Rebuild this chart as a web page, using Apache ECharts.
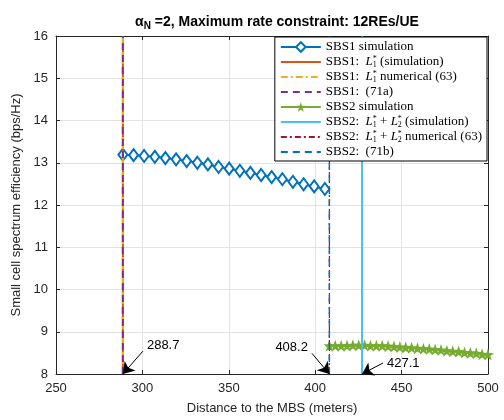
<!DOCTYPE html>
<html>
<head>
<meta charset="utf-8">
<script src="https://cdn.jsdelivr.net/npm/echarts@6/dist/echarts.min.js"></script>
<style>
  html, body { margin: 0; padding: 0; background: #fff; }
  #main { width: 504px; height: 420px; }
</style>
</head>
<body>
<div id="main"></div>
<script>
// SBS1 simulated efficiency vs distance
const sbs1Dist = [288.7, 294.9, 301.0, 307.2, 313.3, 319.5, 325.6, 331.8, 337.9, 344.1,
  350.2, 356.4, 362.5, 368.7, 374.8, 381.0, 387.1, 393.3, 399.4, 405.6];
const sbs1Eff = [13.19, 13.18, 13.16, 13.14, 13.11, 13.08, 13.04, 13.00, 12.96, 12.90,
  12.86, 12.81, 12.76, 12.71, 12.66, 12.61, 12.55, 12.49, 12.44, 12.38];

// SBS2 simulated efficiency vs distance
const sbs2Dist = [408.2, 411.6, 415.0, 418.4, 421.8, 425.2, 428.6, 432.0, 435.4, 438.8,
  442.2, 445.6, 449.0, 452.4, 455.8, 459.2, 462.6, 466.0, 469.4, 472.8,
  476.2, 479.6, 483.0, 486.4, 489.8, 493.2, 496.6, 500.0];
const sbs2Eff = [8.67, 8.67, 8.67, 8.67, 8.68, 8.68, 8.68, 8.67, 8.67, 8.67,
  8.66, 8.65, 8.64, 8.63, 8.62, 8.61, 8.60, 8.59, 8.58, 8.57,
  8.55, 8.54, 8.53, 8.51, 8.50, 8.49, 8.47, 8.46];

// boundary distances (vertical lines)
const sbs1L1Sim = 288.7;
const sbs1L1Num = 288.7;
const sbs1Eq71a = 288.7;
const sbs2SumSim = 427.1;
const sbs2SumNum = 408.2;
const sbs2Eq71b = 408.2;
const yLimits = [8, 16];

// arrow annotations: [label, tail x, tail y, head x, text side]
const notes = [
  ["288.7", 300.3, 8.54, 288.7, "right"],
  ["408.2", 398.1, 8.49, 408.2, "left"],
  ["427.1", 439.2, 8.26, 427.1, "right"]
];

const xTicks = [250, 300, 350, 400, 450, 500];
const yTicks = [8, 9, 10, 11, 12, 13, 14, 15, 16];

const legendNames = [
  "SBS1 simulation",
  "SBS1: L1 (simulation)",
  "SBS1: L1 numerical (63)",
  "SBS1: (71a)",
  "SBS2 simulation",
  "SBS2: L1+L2 (simulation)",
  "SBS2: L1+L2 numerical (63)",
  "SBS2: (71b)"
];
const L1 = "{it|L}{sp|*}{sb|1}";
const L2 = "{it|L}{sp|*}{sb|2}";
const legendRich = {
  "SBS1 simulation": "SBS1 simulation",
  "SBS1: L1 (simulation)": "SBS1:  " + L1 + " (simulation)",
  "SBS1: L1 numerical (63)": "SBS1:  " + L1 + " numerical (63)",
  "SBS1: (71a)": "SBS1:  (71a)",
  "SBS2 simulation": "SBS2 simulation",
  "SBS2: L1+L2 (simulation)": "SBS2:  " + L1 + " + " + L2 + " (simulation)",
  "SBS2: L1+L2 numerical (63)": "SBS2:  " + L1 + " + " + L2 + " numerical (63)",
  "SBS2: (71b)": "SBS2:  (71b)"
};
// series drawn as plain lines: hide the marker in their legend icon
const plainLines = ["SBS1: L1 (simulation)", "SBS1: L1 numerical (63)", "SBS1: (71a)",
  "SBS2: L1+L2 (simulation)", "SBS2: L1+L2 numerical (63)", "SBS2: (71b)"];

const star = "path://M0,-10L2.35,-3.24L9.51,-3.09L3.8,1.24L5.88,8.09L0,4L-5.88,8.09L-3.8,1.24L-9.51,-3.09L-2.35,-3.24Z";
const axisColor = "#262626";
const sans = "Liberation Sans, Arial, sans-serif";
const serif = "Liberation Serif, DejaVu Serif, serif";

function vline(name, x, color, type, width) {
  return {
    name: name,
    type: "line",
    data: [[x, yLimits[0]], [x, yLimits[1]]],
    symbol: "none",
    color: color,
    lineStyle: { color: color, type: type, width: width },
    z: 3
  };
}

let option = {
  animation: false,
  backgroundColor: "#fff",
  title: {
    text: "{a|α}{n|N} =2, Maximum rate constraint: 12REs/UE",
    left: 272,
    top: 8,
    textAlign: "center",
    textStyle: {
      fontFamily: sans,
      fontSize: 14,
      fontWeight: "bold",
      color: "#000",
      rich: {
        a: { fontFamily: sans, fontSize: 14, fontWeight: "bold", color: "#000" },
        n: { fontFamily: sans, fontSize: 10, fontWeight: "bold", color: "#000", verticalAlign: "bottom", padding: [8, 0, 0, 0] }
      }
    }
  },
  grid: { left: 56, right: 16, top: 36, bottom: 42 },
  legend: {
    data: legendNames.map((n) => (plainLines.includes(n) ? { name: n, itemStyle: { opacity: 0 } } : { name: n })),
    orient: "vertical",
    right: 17,
    top: 37,
    padding: [3, 5, 2, 5],
    itemGap: 1,
    itemWidth: 40,
    itemHeight: 12,
    backgroundColor: "#fff",
    borderColor: "#000",
    borderWidth: 1,
    borderRadius: 0,
    formatter: (name) => legendRich[name],
    textStyle: {
      fontFamily: serif,
      fontSize: 13,
      color: "#000",
      lineHeight: 14,
      rich: {
        it: { fontFamily: serif, fontSize: 13, fontStyle: "italic", color: "#000", lineHeight: 14 },
        sp: { fontFamily: serif, fontSize: 8, color: "#000", width: 0, verticalAlign: "top", lineHeight: 8 },
        sb: { fontFamily: serif, fontSize: 8, color: "#000", verticalAlign: "bottom", lineHeight: 8 }
      }
    }
  },
  xAxis: [
    {
      type: "value",
      min: xTicks[0],
      max: xTicks[xTicks.length - 1],
      interval: 50,
      name: "Distance to the MBS (meters)",
      nameLocation: "middle",
      nameGap: 28,
      nameTextStyle: { fontFamily: sans, fontSize: 13, color: axisColor },
      axisLine: { onZero: false, lineStyle: { color: axisColor } },
      axisTick: { inside: true, length: 4, lineStyle: { color: axisColor } },
      axisLabel: { fontFamily: sans, fontSize: 13, color: axisColor, margin: 8 },
      splitLine: { show: true, lineStyle: { color: "#e3e3e3" } }
    },
    {
      type: "value",
      position: "top",
      min: xTicks[0],
      max: xTicks[xTicks.length - 1],
      interval: 50,
      axisLine: { onZero: false, lineStyle: { color: axisColor } },
      axisTick: { inside: true, length: 4, lineStyle: { color: axisColor } },
      axisLabel: { show: false },
      splitLine: { show: false }
    }
  ],
  yAxis: [
    {
      type: "value",
      min: yTicks[0],
      max: yTicks[yTicks.length - 1],
      interval: 1,
      name: "Small cell spectrum efficiency (bps/Hz)",
      nameLocation: "middle",
      nameGap: 30,
      nameTextStyle: { fontFamily: sans, fontSize: 13, color: axisColor },
      axisLine: { onZero: false, lineStyle: { color: axisColor } },
      axisTick: { inside: true, length: 4, lineStyle: { color: axisColor } },
      axisLabel: { fontFamily: sans, fontSize: 13, color: axisColor, margin: 8 },
      splitLine: { show: true, lineStyle: { color: "#e3e3e3" } }
    },
    {
      type: "value",
      position: "right",
      min: yTicks[0],
      max: yTicks[yTicks.length - 1],
      interval: 1,
      axisLine: { onZero: false, lineStyle: { color: axisColor } },
      axisTick: { inside: true, length: 4, lineStyle: { color: axisColor } },
      axisLabel: { show: false },
      splitLine: { show: false }
    }
  ],
  series: [
    {
      name: "SBS1 simulation",
      type: "line",
      data: sbs1Dist.map((d, i) => [d, sbs1Eff[i]]),
      color: "#0072BD",
      symbol: "emptyDiamond",
      symbolSize: [9, 12],
      showAllSymbol: true,
      lineStyle: { width: 2, color: "#0072BD" },
      itemStyle: { color: "#0072BD", borderWidth: 1.8 },
      z: 2
    },
    vline("SBS1: L1 (simulation)", sbs1L1Sim, "#D95319", "solid", 2),
    vline("SBS1: L1 numerical (63)", sbs1L1Num, "#EDB120", [7, 3, 2, 3], 2),
    vline("SBS1: (71a)", sbs1Eq71a, "#7E2F8E", [7, 5], 2),
    {
      name: "SBS2 simulation",
      type: "line",
      data: sbs2Dist.map((d, i) => [d, sbs2Eff[i]]),
      color: "#77AC30",
      symbol: star,
      symbolSize: 12,
      showAllSymbol: true,
      lineStyle: { width: 2.5, color: "#77AC30" },
      itemStyle: { color: "#77AC30" },
      z: 2
    },
    vline("SBS2: L1+L2 (simulation)", sbs2SumSim, "#4DBEEE", "solid", 2),
    vline("SBS2: L1+L2 numerical (63)", sbs2SumNum, "#A2142F", [6, 3, 2, 3], 1.2),
    vline("SBS2: (71b)", sbs2Eq71b, "#0072BD", [7, 5], 1.5),
    {
      name: "notes",
      type: "line",
      data: [],
      markLine: {
        silent: true,
        symbol: ["none", "arrow"],
        symbolSize: 11,
        lineStyle: { color: "#000", width: 1, type: "solid" },
        label: { show: false },
        data: notes.map((n) => [
          { coord: [n[1], n[2]] },
          { coord: [n[3], yLimits[0]] }
        ])
      },
      markPoint: {
        silent: true,
        symbol: "circle",
        symbolSize: 0,
        label: {
          show: true,
          fontFamily: sans,
          fontSize: 13,
          color: "#000"
        },
        data: notes.map((n) => ({
          coord: [n[1], n[2]],
          label: {
            formatter: n[0],
            position: n[4],
            distance: 4,
            offset: n[0] === "427.1" ? [0, 0] : [0, -6]
          }
        }))
      },
      z: 4
    }
  ]
};

let myChart = echarts.init(document.getElementById("main"));
myChart.setOption(option);
</script>
</body>
</html>
